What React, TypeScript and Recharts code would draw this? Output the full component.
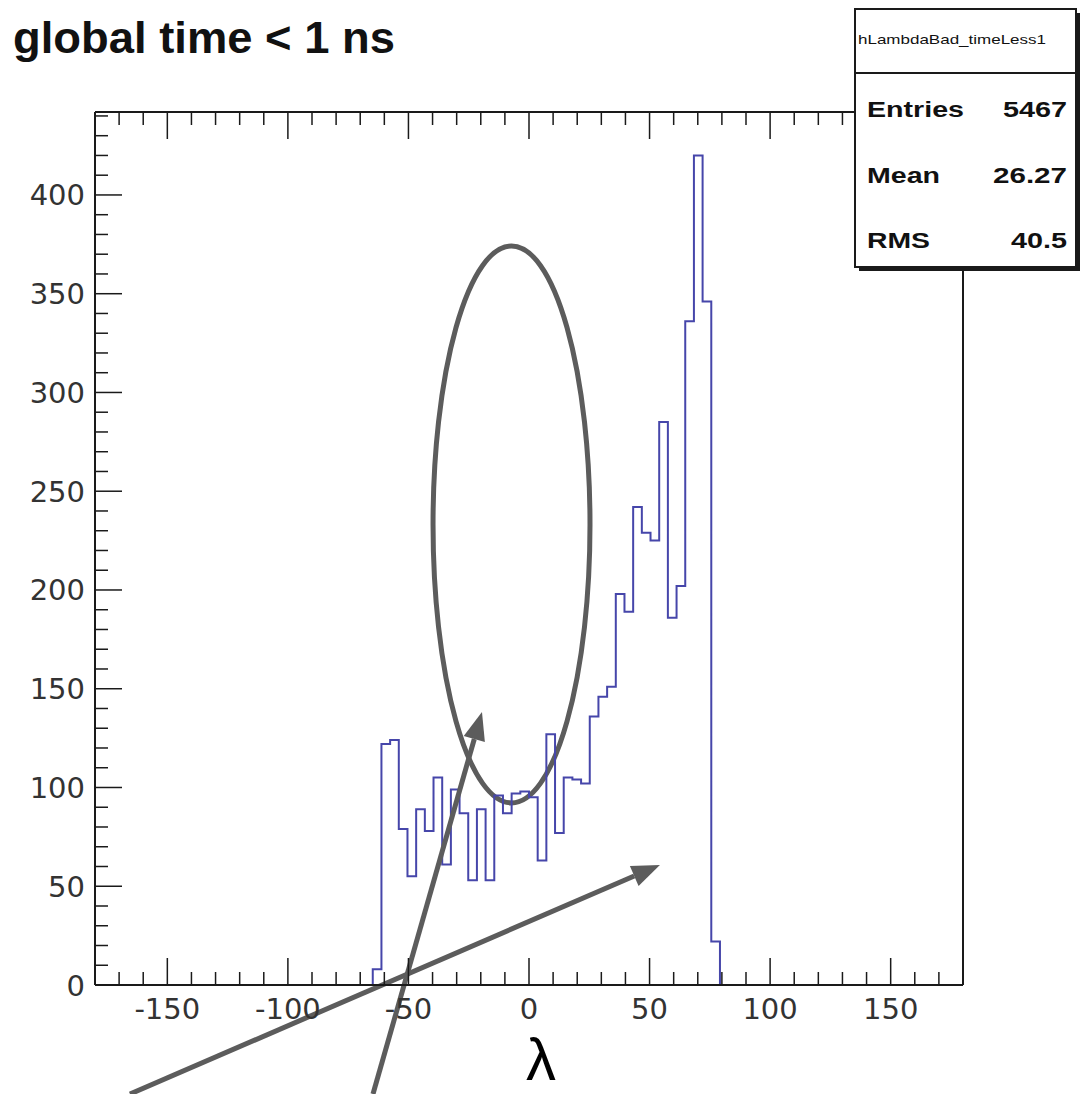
import React from 'react';
import { LineChart, Line, XAxis, YAxis, ReferenceLine, ReferenceArea } from 'recharts';

// histogram: 100 bins over [-180, 180], only bins 32..71 are filled
const binWidth = 3.6;
const firstBinLow = -64.8;
const counts = [
  8, 122, 124, 79, 55, 89, 78, 105, 61, 99,
  87, 53, 89, 53, 96, 87, 97, 98, 95, 63,
  127, 77, 105, 104, 102, 136, 146, 151, 198, 189,
  242, 229, 225, 285, 186, 202, 336, 420, 346, 22,
];

const xDomain = [-180, 180];
const yDomain = [0, 442];
const xMajor = [-150, -100, -50, 0, 50, 100, 150];
const yMajor = [0, 50, 100, 150, 200, 250, 300, 350, 400];
const minorStep = 10;

const statsTitle = 'hLambdaBad_timeLess1';
const statsNames = ['Entries', 'Mean', 'RMS'];
const statsValues = ['5467', '26.27', '40.5'];

// hand-drawn annotations, in data units
const arrows = [
  { x1: -64.7, y1: -55.2, x2: -19.5, y2: 138.2 },
  { x1: -165.5, y1: -55.2, x2: 54.3, y2: 60.8 },
];
const ellipseBox = { x1: -39.8, x2: 25.3, y1: 92.2, y2: 374.2 };

const r1 = (v: number) => Math.round(v * 10) / 10;

const histData = [
  { x: firstBinLow, y: 0 },
  ...counts.map((c, i) => ({ x: r1(firstBinLow + i * binWidth), y: c })),
  { x: r1(firstBinLow + counts.length * binWidth), y: 0 },
];

const range = (a: number, b: number, s: number) => {
  const out: number[] = [];
  for (let v = a; v <= b; v += s) out.push(v);
  return out;
};
const xTicks = range(-170, 170, minorStep);
const yTicks = range(0, 440, minorStep);

const frame = '#1a1a1a';
const labelFont = 'DejaVu Sans';
const annot = '#5c5c5c';

const BottomTick = (p: any) => {
  const major = xMajor.includes(p.payload.value);
  return (
    <g>
      <line x1={p.x} y1={p.y} x2={p.x} y2={p.y - (major ? 27 : 13)} stroke={frame} strokeWidth={1.5} />
      {major && (
        <text x={p.x} y={p.y + 34} textAnchor="middle" fontSize={29} fontFamily={labelFont} fill="#333">
          {p.payload.value}
        </text>
      )}
    </g>
  );
};

const TopTick = (p: any) => {
  const major = xMajor.includes(p.payload.value);
  return <line x1={p.x} y1={p.y} x2={p.x} y2={p.y + (major ? 27 : 13)} stroke={frame} strokeWidth={1.5} />;
};

const LeftTick = (p: any) => {
  const major = yMajor.includes(p.payload.value);
  return (
    <g>
      <line x1={p.x} y1={p.y} x2={p.x + (major ? 27 : 13)} y2={p.y} stroke={frame} strokeWidth={1.5} />
      {major && (
        <text x={p.x - 10} y={p.y + 10.5} textAnchor="end" fontSize={29} fontFamily={labelFont} fill="#333">
          {p.payload.value}
        </text>
      )}
    </g>
  );
};

const RightTick = (p: any) => {
  const major = yMajor.includes(p.payload.value);
  return <line x1={p.x} y1={p.y} x2={p.x - (major ? 27 : 13)} y2={p.y} stroke={frame} strokeWidth={1.5} />;
};

const Arrow = (p: any) => {
  const { x1, y1, x2, y2 } = p;
  const a = Math.atan2(y2 - y1, x2 - x1);
  const len = 28;
  const half = 11;
  const bx = x2 - len * Math.cos(a);
  const by = y2 - len * Math.sin(a);
  const nx = -Math.sin(a) * half;
  const ny = Math.cos(a) * half;
  return (
    <g>
      <line x1={x1} y1={y1} x2={bx} y2={by} stroke={annot} strokeWidth={5} />
      <polygon points={`${x2},${y2} ${bx + nx},${by + ny} ${bx - nx},${by - ny}`} fill={annot} />
    </g>
  );
};

const EllipseShape = (p: any) => (
  <ellipse
    cx={p.x + p.width / 2}
    cy={p.y + p.height / 2}
    rx={p.width / 2}
    ry={p.height / 2}
    fill="none"
    stroke={annot}
    strokeWidth={5}
  />
);

export default function App() {
  const rowBase = [117, 183, 248];
  const nameWidths = [97, 73, 63];
  const valueWidths = [64, 74, 56];
  return (
    <div style={{ position: 'absolute', left: 0, top: 0, width: 1088, height: 1094, background: '#fff' }}>
      <LineChart
        width={1088}
        height={1094}
        data={histData}
        margin={{ top: 92, right: 105, bottom: 49, left: 15 }}
      >
        <XAxis
          type="number"
          dataKey="x"
          domain={xDomain}
          ticks={xTicks}
          interval={0}
          height={60}
          tickSize={0}
          tickMargin={0}
          tickLine={false}
          axisLine={{ stroke: frame, strokeWidth: 2 }}
          tick={BottomTick}
        />
        <XAxis
          xAxisId="top"
          orientation="top"
          type="number"
          dataKey="x"
          domain={xDomain}
          ticks={xTicks}
          interval={0}
          height={20}
          tickSize={0}
          tickMargin={0}
          tickLine={false}
          axisLine={{ stroke: frame, strokeWidth: 2 }}
          tick={TopTick}
        />
        <YAxis
          type="number"
          domain={yDomain}
          ticks={yTicks}
          interval={0}
          width={80}
          tickSize={0}
          tickMargin={0}
          tickLine={false}
          axisLine={{ stroke: frame, strokeWidth: 2 }}
          tick={LeftTick}
        />
        <YAxis
          yAxisId="right"
          orientation="right"
          type="number"
          domain={yDomain}
          ticks={yTicks}
          interval={0}
          width={20}
          tickSize={0}
          tickMargin={0}
          tickLine={false}
          axisLine={{ stroke: frame, strokeWidth: 2 }}
          tick={RightTick}
        />
        <Line
          type="stepAfter"
          dataKey="y"
          stroke="#4646aa"
          strokeWidth={2}
          dot={false}
          activeDot={false}
          isAnimationActive={false}
        />
        <ReferenceArea
          x1={ellipseBox.x1}
          x2={ellipseBox.x2}
          y1={ellipseBox.y1}
          y2={ellipseBox.y2}
          ifOverflow="visible"
          shape={EllipseShape}
        />
        {arrows.map((a, i) => (
          <ReferenceLine
            key={i}
            segment={[{ x: a.x1, y: a.y1 }, { x: a.x2, y: a.y2 }]}
            ifOverflow="visible"
            shape={Arrow}
          />
        ))}
      </LineChart>
      <svg
        width={1088}
        height={1094}
        style={{ position: 'absolute', left: 0, top: 0, pointerEvents: 'none' }}
      >
        <text
          x={13}
          y={53}
          fontSize={45}
          fontWeight="bold"
          fontFamily="Liberation Sans"
          fill="#111"
          textLength={382}
          lengthAdjust="spacingAndGlyphs"
        >
          global time &lt; 1 ns
        </text>
        <text x={541} y={1080} fontSize={60} textAnchor="middle" fontFamily="Liberation Sans" fill="#000">
          λ
        </text>
        <rect x={859} y={13} width={221} height={258} fill={frame} />
        <rect x={855} y={9} width={221} height={258} fill="#fff" stroke={frame} strokeWidth={2} />
        <line x1={855} y1={73} x2={1076} y2={73} stroke={frame} strokeWidth={2} />
        <text
          x={858}
          y={44}
          fontSize={13}
          fontFamily="Liberation Sans"
          fill="#111"
          textLength={188}
          lengthAdjust="spacingAndGlyphs"
        >
          {statsTitle}
        </text>
        {statsNames.map((n, i) => (
          <g key={n}>
            <text
              x={867}
              y={rowBase[i]}
              fontSize={22}
              fontWeight="bold"
              fontFamily="Liberation Sans"
              fill="#111"
              textLength={nameWidths[i]}
              lengthAdjust="spacingAndGlyphs"
            >
              {n}
            </text>
            <text
              x={1067 - valueWidths[i]}
              y={rowBase[i]}
              fontSize={22}
              fontWeight="bold"
              fontFamily="Liberation Sans"
              fill="#111"
              textLength={valueWidths[i]}
              lengthAdjust="spacingAndGlyphs"
            >
              {statsValues[i]}
            </text>
          </g>
        ))}
      </svg>
    </div>
  );
}
